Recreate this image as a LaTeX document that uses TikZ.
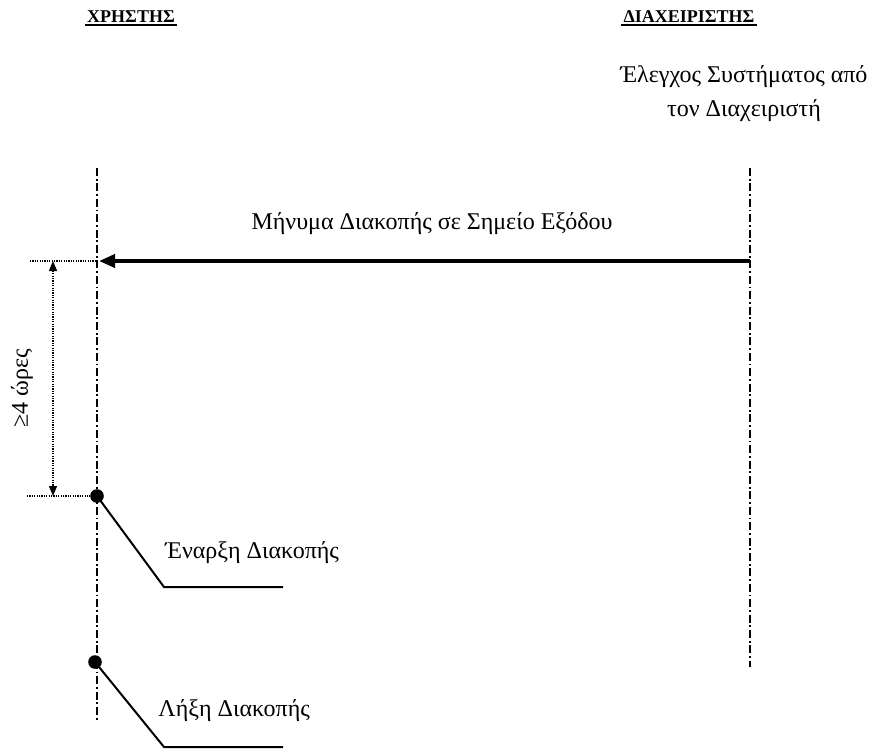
\documentclass[tikz,border=0pt]{standalone}
\usepackage{fontspec}
\setmainfont{Liberation Serif}
\usetikzlibrary{arrows.meta}
\begin{document}
\begin{tikzpicture}[x=0.5pt,y=-0.5pt,
 lifeline/.style={line width=0.9pt,dash pattern=on 4pt off 1.4pt on 0.9pt off 1.4pt},
 hdr/.style={font=\bfseries\fontsize{9}{11}\selectfont,inner sep=0pt,outer sep=1.2pt},
 hline/.style={line width=1.1pt},
 lbl/.style={font=\fontsize{12}{14}\selectfont,inner sep=0pt},
 dotln/.style={line width=0.6pt,dash pattern=on 0.6pt off 0.6pt},
 ev/.style={circle,fill=black,inner sep=0pt,minimum size=6.8pt},
 msg/.style={line width=1.9pt,-{Triangle[length=8pt,width=6.5pt]}},
 leader/.style={line width=1pt}]
\useasboundingbox (0,0) rectangle (870,753);

% headers
\node[hdr] (user) at (131,17) {ΧΡΗΣΤΗΣ};
\node[hdr] (admin) at (689,17) {ΔΙΑΧΕΙΡΙΣΤΗΣ};
\draw[hline] (user.south west) -- (user.south east);
\draw[hline] (admin.south west) -- (admin.south east);
\node[lbl,align=center] (check) at (744,94) {Έλεγχος Συστήματος από\\[3pt]τον Διαχειριστή};

% lifelines
\coordinate (uTop) at (97,168);
\coordinate (uBot) at (97,720);
\coordinate (aTop) at (750,168);
\coordinate (aBot) at (750,667);
\draw[lifeline] (uTop) -- (uBot);
\draw[lifeline] (aTop) -- (aBot);

% message
\coordinate (mFrom) at (750,261);
\coordinate (mTo) at (99,261);
\draw[msg] (mFrom) -- (mTo);
\node[lbl] (msglbl) at (432,224) {Μήνυμα Διακοπής σε Σημείο Εξόδου};

% events
\node[ev] (start) at (97,496) {};
\node[ev] (stop) at (95,662) {};
\coordinate (sBend) at (164,587);
\coordinate (sEnd) at (283,587);
\coordinate (eBend) at (164,747);
\coordinate (eEnd) at (283,747);
\draw[leader] (start.center) -- (sBend) -- (sEnd);
\draw[leader] (stop.center) -- (eBend) -- (eEnd);
\node[lbl,anchor=west] (startlbl) at (165,553) {Έναρξη Διακοπής};
\node[lbl,anchor=west] (stoplbl) at (158,711) {Λήξη Διακοπής};

% dimension
\coordinate (d1a) at (30,261);
\coordinate (d1b) at (97,261);
\coordinate (d2a) at (27,496);
\draw[dotln] (d1a) -- (d1b);
\draw[dotln] (d2a) -- (start);
\coordinate (dimTop) at (53,261);
\coordinate (dimBot) at (53,496);
\draw[dotln,{Triangle[length=5pt,width=4pt]}-{Triangle[length=5pt,width=4pt]}] (dimTop) -- (dimBot);
\node[lbl,rotate=90] (dimlbl) at (22,388) {≥4 ώρες};
\end{tikzpicture}
\end{document}
